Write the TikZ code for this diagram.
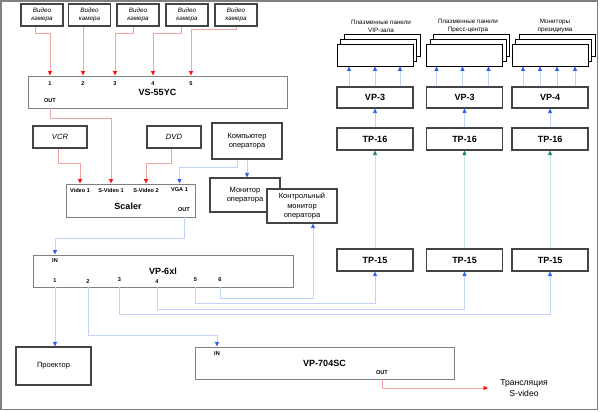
\documentclass[tikz,border=0pt]{standalone}
\usepackage{fontspec}
\setmainfont{Liberation Sans}
\usepackage{tikz}
\usetikzlibrary{arrows.meta,positioning,shadows}
\definecolor{framegray}{HTML}{808080}
\definecolor{boxdark}{HTML}{444444}
\definecolor{redline}{HTML}{F2A4A4}
\definecolor{redtip}{HTML}{FF1010}
\definecolor{blueline}{HTML}{C2D3F7}
\definecolor{bluetip}{HTML}{2F62F2}
\definecolor{greenline}{HTML}{C4E6D2}
\definecolor{greentip}{HTML}{1E8A50}
\newcommand{\txtfont}{\fontsize{7.5}{9.5}\selectfont}
\newcommand{\camfont}{\itshape\fontsize{6.3}{8}\selectfont}
\newcommand{\portfont}{\bfseries\fontsize{5.6}{6}\selectfont}
\newcommand{\namefont}{\bfseries\fontsize{9}{10}\selectfont}
\newcommand{\capfont}{\fontsize{6.3}{8}\selectfont}

\begin{document}
\begin{tikzpicture}[x=1pt,y=-1pt,
  dev/.style={draw=boxdark,line width=1.1pt,fill=white,align=center,inner sep=1pt,font=\txtfont},
  cam/.style={dev,minimum width=42pt,minimum height=22pt,font=\camfont},
  src/.style={dev,minimum width=54pt,minimum height=22pt,font=\itshape\fontsize{7.6}{9}\selectfont},
  unit/.style={draw=framegray,line width=0.9pt,fill=white,inner sep=0pt,font=\namefont},
  col/.style={dev,minimum width=76pt,minimum height=22pt,font=\namefont},
  panel/.style={draw=black,line width=0.7pt,fill=white,minimum width=76pt,minimum height=22pt,
    general shadow={draw=black,fill=white,shadow xshift=7pt,shadow yshift=10pt},
    general shadow={draw=black,fill=white,shadow xshift=3.5pt,shadow yshift=5pt}},
  port/.style={inner sep=0pt,font=\portfont},
  caption/.style={align=center,inner sep=0pt,font=\capfont},
  rarr/.style={draw=redline,line width=0.8pt,-{Triangle[length=4.5pt,width=4pt,color=redtip]}},
  barr/.style={draw=blueline,line width=0.8pt,-{Triangle[length=4.5pt,width=4pt,color=bluetip]}},
  garr/.style={draw=greenline,line width=0.8pt,-{Triangle[length=4.5pt,width=4pt,color=greentip]}}
]
\useasboundingbox (0,0) rectangle (600,412);
\draw[framegray,line width=1.5pt] (1,1) rectangle (597.5,409.5);

\node[cam] (cam1) at (42,15) {Видео\\камера};
\node[cam] (cam2) at (89.5,15) {Видео\\камера};
\node[cam] (cam3) at (138,15) {Видео\\камера};
\node[cam] (cam4) at (187,15) {Видео\\камера};
\node[cam] (cam5) at (236,15) {Видео\\камера};

\node[unit,minimum width=259pt,minimum height=32pt] (vs) at (157.5,92) {VS-55YC};
\node[port] (vs1) at (50,83.5) {1};
\node[port] (vs2) at (83,84) {2};
\node[port] (vs3) at (115,83.5) {3};
\node[port] (vs4) at (153,84) {4};
\node[port] (vs5) at (191,83.5) {5};
\node[port] (vsout) at (50,101) {OUT};

\node[src] (vcr) at (60,137) {VCR};
\node[src] (dvd) at (174,137) {DVD};
\node[dev,minimum width=70pt,minimum height=36pt] (comp) at (247,141) {Компьютер\\оператора};
\node[dev,minimum width=70pt,minimum height=34pt] (mon) at (245,195) {Монитор\\оператора};
\node[dev,minimum width=70pt,minimum height=34pt] (ctrl) at (302,206) {Контрольный\\монитор\\оператора};

\node[unit,minimum width=129pt,minimum height=33pt] (scaler) at (130.5,200.5) {};
\node[inner sep=0pt,font=\namefont] (scname) at (128,206) {Scaler};
\node[port] (vid1) at (80,190) {Video 1};
\node[port] (sv1) at (111,190) {S-Video 1};
\node[port] (sv2) at (146,190) {S-Video 2};
\node[port] (vga) at (179.5,190) {VGA 1};
\node[port] (sout) at (184,210) {OUT};

\node[unit,minimum width=260pt,minimum height=32pt] (vp6) at (163,271) {VP-6xl};
\node[port] (vpin) at (55,261) {IN};
\node[port] (p1) at (55,281) {1};
\node[port] (p2) at (88,282) {2};
\node[port] (p3) at (119.5,280) {3};
\node[port] (p4) at (157,282) {4};
\node[port] (p5) at (195.5,280) {5};
\node[port] (p6) at (220,280) {6};

\node[dev,minimum width=75pt,minimum height=38pt] (proj) at (53.5,366) {Проектор};
\node[unit,minimum width=259pt,minimum height=32pt] (vp704) at (324.5,363) {VP-704SC};
\node[port] (v7in) at (217,354) {IN};
\node[port] (v7out) at (382,373) {OUT};
\node[align=center,inner sep=0pt,font=\fontsize{8.6}{11}\selectfont] (trans) at (524,388) {Трансляция\\S-video};

\node[panel] (pana) at (375,55) {};
\node[panel] (panb) at (464.5,55) {};
\node[panel] (panc) at (550,55) {};
\node[caption] (capa) at (381,26) {Плазменные панели\\VIP-зала};
\node[caption] (capb) at (468,26) {Плазменные панели\\Пресс-центра};
\node[caption] (capc) at (555,26) {Мониторы\\президиума};
\node[col,minimum height=21pt] (vpa) at (375,97.5) {VP-3};
\node[col,minimum height=21pt] (vpb) at (464.5,97.5) {VP-3};
\node[col,minimum height=21pt] (vpc) at (550,97.5) {VP-4};
\node[col] (tpa16) at (375,139) {TP-16};
\node[col] (tpb16) at (464.5,139) {TP-16};
\node[col] (tpc16) at (550,139) {TP-16};
\node[col] (tpa15) at (375,260) {TP-15};
\node[col] (tpb15) at (464.5,260) {TP-15};
\node[col] (tpc15) at (550,260) {TP-15};

\draw[rarr] ([xshift=-7pt]cam1.south) -- ++(0,7) -| (vs.north -| vs1);
\draw[rarr] (cam2.south -| vs2) -- (vs.north -| vs2);
\draw[rarr] ([xshift=-5pt]cam3.south) -- ++(0,7) -| (vs.north -| vs3);
\draw[rarr] ([xshift=-6pt]cam4.south) -- ++(0,7) -| (vs.north -| vs4);
\draw[rarr] (cam5.south) -- ++(0,3) -| (vs.north -| vs5);
\draw[rarr] (vs.south -| vsout) -- ++(0,10) -| (scaler.north -| sv1);
\draw[rarr] ([xshift=-2pt]vcr.south) -- ++(0,15) -| (scaler.north -| vid1);
\draw[rarr] ([xshift=-3pt]dvd.south) -- ++(0,15) -| (scaler.north -| sv2);
\draw[barr] ([xshift=-10pt]comp.south) -- ++(0,8) -| (scaler.north -| vga);
\draw[barr] (comp.south) -- (comp.south |- mon.north);
\draw[barr] (scaler.south -| sout) -- ++(0,21) -| (vp6.north -| vpin);
\draw[barr] (vp6.south -| p1) -- (proj.north -| p1);
\draw[barr] (vp6.south -| p2) -- ++(0,48) -| (vp704.north -| v7in);
\draw[barr] (vp6.south -| p3) -- ++(0,27) -| (tpc15.south);
\draw[barr] (vp6.south -| p4) -- ++(0,22) -| (tpb15.south);
\draw[barr] (vp6.south -| p5) -- ++(0,16) -| (tpa15.south);
\draw[barr] (vp6.south -| p6) -- ++(0,11) -| ([xshift=11pt]ctrl.south);
\draw[rarr] (vp704.south -| v7out) |- ([xshift=-12pt]trans.west);

\draw[garr] (tpa15.north) -- (tpa16.south);
\draw[garr] (tpb15.north) -- (tpb16.south);
\draw[garr] (tpc15.north) -- (tpc16.south);
\draw[barr] (tpa16.north) -- (vpa.south);
\draw[barr] (tpb16.north) -- (vpb.south);
\draw[barr] (tpc16.north) -- (vpc.south);
\draw[barr] ([xshift=-26pt]vpa.north) -- ([xshift=-26pt]pana.south);
\draw[barr] (vpa.north) -- (pana.south);
\draw[barr] ([xshift=25pt]vpa.north) -- ([xshift=25pt]pana.south);
\draw[barr] ([xshift=-28pt]vpb.north) -- ([xshift=-28pt]panb.south);
\draw[barr] ([xshift=-2pt]vpb.north) -- ([xshift=-2pt]panb.south);
\draw[barr] ([xshift=24pt]vpb.north) -- ([xshift=24pt]panb.south);
\draw[barr] ([xshift=-27pt]vpc.north) -- ([xshift=-27pt]panc.south);
\draw[barr] ([xshift=-10pt]vpc.north) -- ([xshift=-10pt]panc.south);
\draw[barr] ([xshift=7pt]vpc.north) -- ([xshift=7pt]panc.south);
\draw[barr] ([xshift=25pt]vpc.north) -- ([xshift=25pt]panc.south);
\end{tikzpicture}
\end{document}
